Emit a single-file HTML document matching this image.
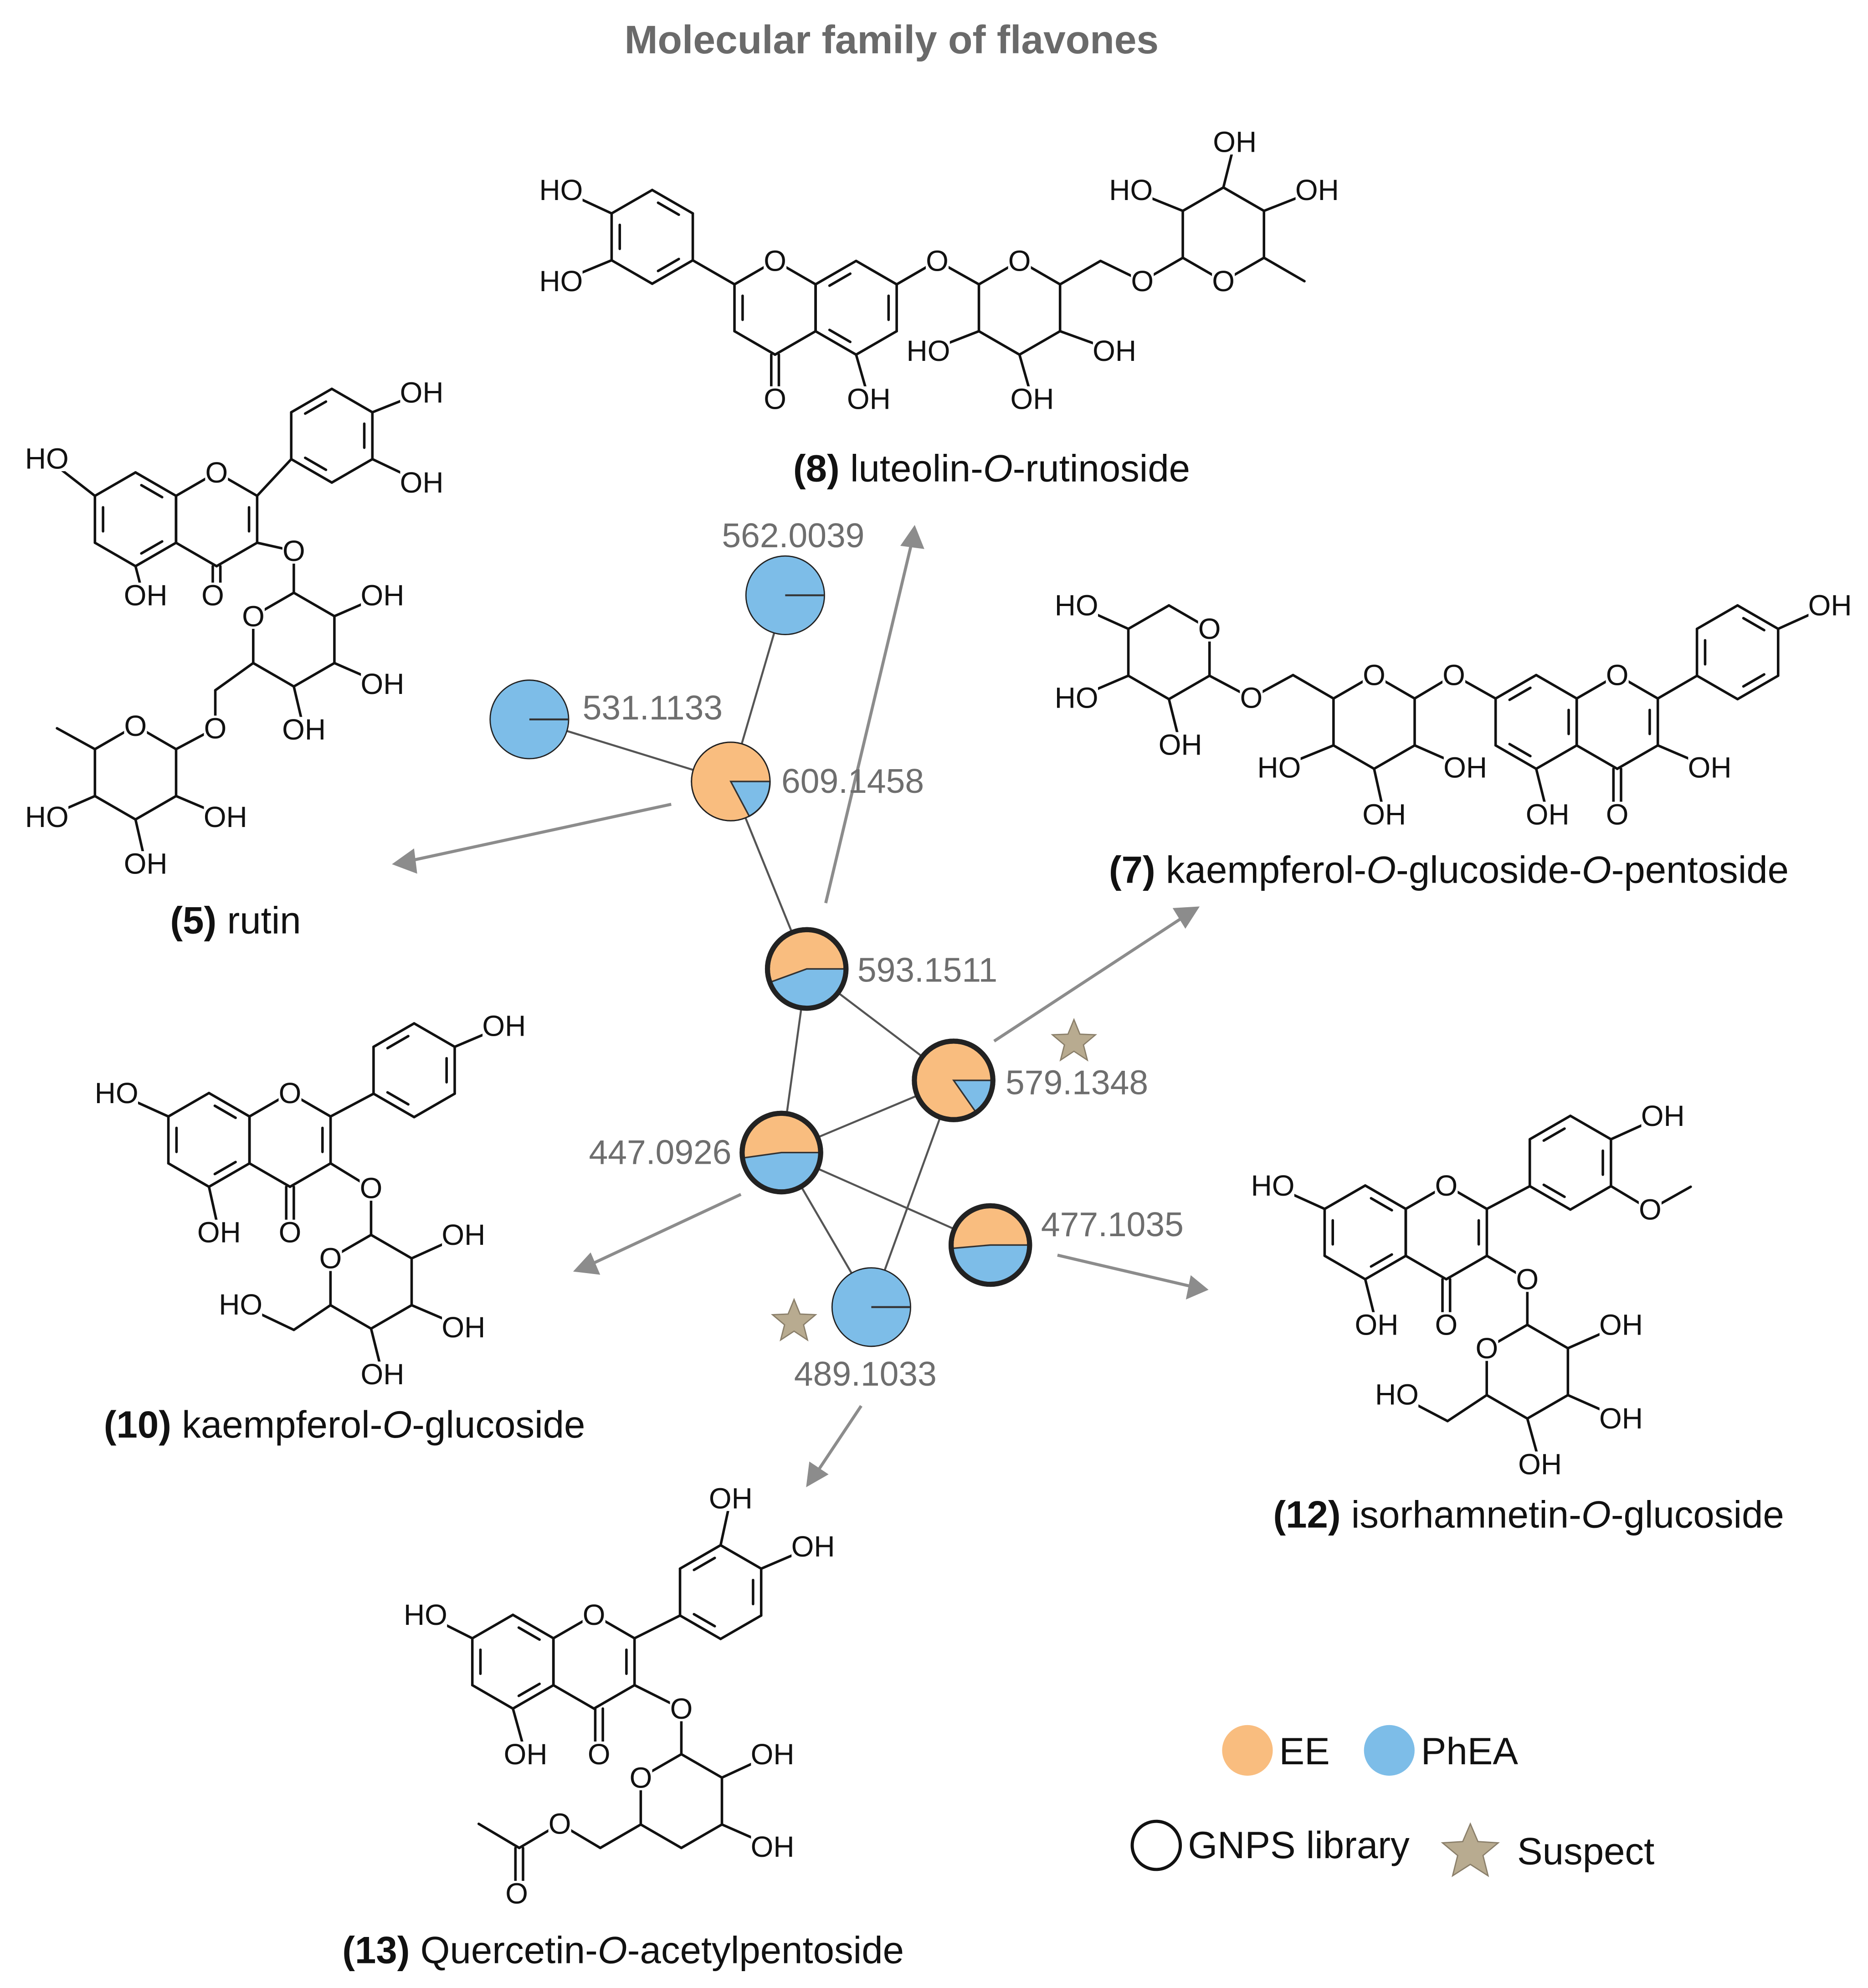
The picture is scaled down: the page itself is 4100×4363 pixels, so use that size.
<!DOCTYPE html>
<html><head><meta charset="utf-8"><style>
html,body{margin:0;padding:0;background:#fff}
svg{display:block}
.a{font-family:"Liberation Sans",Arial,sans-serif;font-size:23px;fill:#111;text-anchor:middle;dominant-baseline:central}
.n{font-family:"Liberation Sans",Arial,sans-serif;font-size:27px;fill:#6e6e6e}
.c{font-family:"Liberation Sans",Arial,sans-serif;font-size:30px;fill:#111;text-anchor:middle}
</style></head><body>
<svg id="root" xmlns="http://www.w3.org/2000/svg" width="4100" height="4363" viewBox="0 0 1475 1569.6">
<rect width="1475" height="1570" fill="#fff"/>
<g id="b" stroke="#111" stroke-width="2" fill="none" stroke-linecap="round"></g>
<g stroke="#555" stroke-width="1.6">
<line x1="620" y1="470" x2="577" y2="617"/><line x1="418" y1="568" x2="577" y2="617"/>
<line x1="577" y1="617" x2="637" y2="765"/><line x1="637" y1="765" x2="753" y2="853"/>
<line x1="637" y1="765" x2="617" y2="910"/><line x1="617" y1="910" x2="753" y2="853"/>
<line x1="617" y1="910" x2="782" y2="983"/><line x1="617" y1="910" x2="688" y2="1032"/>
<line x1="753" y1="853" x2="688" y2="1032"/>
</g>
<g stroke="#8c8c8c" stroke-width="2.4" fill="#8c8c8c">
<line x1="530" y1="635" x2="322" y2="680"/><path d="M312,682 L326,672 L328,688 Z"/>
<line x1="652" y1="713" x2="720" y2="428"/><path d="M722,417 L728,432 L713,430 Z"/>
<line x1="785" y1="822" x2="936" y2="723"/><path d="M945,717 L936,731 L928,718 Z"/>
<line x1="585" y1="943" x2="465" y2="999"/><path d="M455,1003 L466,991 L472,1005 Z"/>
<line x1="835" y1="991" x2="942" y2="1016"/><path d="M952,1018 L938,1024 L941,1009 Z"/>
<line x1="680" y1="1110" x2="644" y2="1164"/><path d="M638,1172 L640,1156 L652,1164 Z"/>
</g>
<g id="p"></g>
<g fill="#b8ab90" stroke="#8a7f6a" stroke-width="1">
<polygon points="848,805 852.7,816.5 865,817 855.5,825 858.6,837 848,830 837.4,837 840.5,825 831,817 843.3,816.5"/>
<polygon points="627,1026 631.7,1037.5 644,1038 634.5,1046 637.6,1058 627,1051 616.4,1058 619.5,1046 610,1038 622.3,1037.5"/>
<polygon points="1161,1440 1167,1454 1183,1455 1171,1465 1175,1481 1161,1472 1147,1481 1151,1465 1139,1455 1155,1454"/>
</g>
<g class="n">
<text x="570" y="432">562.0039</text><text x="460" y="568">531.1133</text>
<text x="617" y="626">609.1458</text><text x="677" y="775">593.1511</text>
<text x="794" y="864">579.1348</text><text x="465" y="919">447.0926</text>
<text x="822" y="976">477.1035</text><text x="627" y="1094">489.1033</text>
</g>
<text x="704" y="42" text-anchor="middle" font-family="Liberation Sans,Arial,sans-serif" font-size="31.5" font-weight="bold" fill="#6a6a6a">Molecular family of flavones</text>
<text class="c" x="783" y="380"><tspan font-weight="bold">(8)</tspan> luteolin-<tspan font-style="italic">O</tspan>-rutinoside</text>
<text class="c" x="186" y="737"><tspan font-weight="bold">(5)</tspan> rutin</text>
<text class="c" x="1144" y="697"><tspan font-weight="bold">(7)</tspan> kaempferol-<tspan font-style="italic">O</tspan>-glucoside-<tspan font-style="italic">O</tspan>-pentoside</text>
<text class="c" x="272" y="1135"><tspan font-weight="bold">(10)</tspan> kaempferol-<tspan font-style="italic">O</tspan>-glucoside</text>
<text class="c" x="1207" y="1206"><tspan font-weight="bold">(12)</tspan> isorhamnetin-<tspan font-style="italic">O</tspan>-glucoside</text>
<text class="c" x="492" y="1550"><tspan font-weight="bold">(13)</tspan> Quercetin-<tspan font-style="italic">O</tspan>-acetylpentoside</text>
<circle cx="985" cy="1382" r="20" fill="#f9bd7f"/><circle cx="1097" cy="1382" r="20" fill="#7dbde8"/>
<circle cx="913" cy="1457" r="19" fill="#fff" stroke="#111" stroke-width="2.5"/>
<g font-family="Liberation Sans,Arial,sans-serif" font-size="30" fill="#111">
<text x="1010" y="1393">EE</text><text x="1122" y="1393">PhEA</text>
<text x="938" y="1467">GNPS library</text><text x="1198" y="1472">Suspect</text></g>
<g id="t"></g>
</svg>
<script>
var NS="http://www.w3.org/2000/svg",B=document.getElementById('b'),P=document.getElementById('p');
function L(a,b,c,d){var l=document.createElementNS(NS,'line');l.setAttribute('x1',a);l.setAttribute('y1',b);l.setAttribute('x2',c);l.setAttribute('y2',d);B.appendChild(l);}
function V(cx,cy,i){var r=37,an=(-90+60*i)*Math.PI/180;return [cx+r*Math.cos(an),cy+r*Math.sin(an)];}
function H(cx,cy,d){d=d||[];for(var i=0;i<6;i++){var p=V(cx,cy,i),q=V(cx,cy,(i+1)%6);L(p[0],p[1],q[0],q[1]);
if(d.indexOf(i)>=0){var k=0.2,t=0.18;var p2=[p[0]+(cx-p[0])*k,p[1]+(cy-p[1])*k],q2=[q[0]+(cx-q[0])*k,q[1]+(cy-q[1])*k];
var a=[p2[0]+(q2[0]-p2[0])*t,p2[1]+(q2[1]-p2[1])*t],b=[q2[0]+(p2[0]-q2[0])*t,q2[1]+(p2[1]-q2[1])*t];L(a[0],a[1],b[0],b[1]);}}}
function Bv(cx,cy,i,x,y){var p=V(cx,cy,i);L(p[0],p[1],x,y);}
function D(a,b,c,d){L(a,b,c,d);L(a+6,b,c+6,d);}
// rutin
H(107,410,[0,2,4]);H(171,410,[1]);H(262,344,[1,3,5]);L(203,391.5,230,362.5);
Bv(107,410,5,37,362);Bv(107,410,3,113,470);D(168,447,168,468);
Bv(262,344,1,333,310);Bv(262,344,2,333,381);Bv(171,410,2,232,435);
H(232,505);L(232,435,232,468);Bv(232,505,1,302,470);Bv(232,505,2,302,540);Bv(232,505,3,240,576);
Bv(232,505,4,170,545);L(170,545,170,575);H(107,610);L(170,575,139,591.5);Bv(107,610,5,45,575);
Bv(107,610,4,37,645);Bv(107,610,3,115,682);Bv(107,610,2,178,645);
// luteolin-O-rutinoside
H(515,187,[0,2,4]);H(612,243,[4]);H(676,243,[1,3,5]);L(547,205.5,580,224.5);
Bv(515,187,5,443,150);Bv(515,187,4,443,222);D(609,280,609,315);Bv(676,243,3,686,315);
Bv(676,243,1,740,206);H(805,243);L(740,206,773,224.5);Bv(805,243,4,733,277);Bv(805,243,3,815,315);Bv(805,243,2,880,277);
Bv(805,243,1,869,206);L(869,206,902,222);H(966,185);L(902,222,934,203.5);Bv(966,185,2,1030,222);
Bv(966,185,0,975,112);Bv(966,185,5,893,150);Bv(966,185,1,1040,150);
// kaempferol-glc-pentoside
H(1213,570,[1,3,5]);H(1277,570,[1]);H(1372,515,[0,2,4]);L(1309,551.5,1340,533.5);
Bv(1372,515,1,1445,478);Bv(1277,570,2,1350,606);D(1274,607,1274,643);Bv(1213,570,3,1222,643);
Bv(1213,570,5,1148,533);H(1085,570);L(1148,533,1117,551.5);Bv(1085,570,4,1010,606);Bv(1085,570,3,1093,643);Bv(1085,570,2,1157,606);
Bv(1085,570,5,1021,533);L(1021,533,988,551);H(923,515);L(988,551,955,533.5);
Bv(923,515,5,850,478);Bv(923,515,4,850,551);Bv(923,515,3,932,588);
// kaempferol-O-glucoside
H(165,900,[0,2,4]);H(229,900,[1]);H(327,845,[1,3,5]);L(261,881.5,295,863.5);
Bv(327,845,1,398,810);Bv(165,900,5,92,863);Bv(165,900,3,173,973);D(226,937,226,973);Bv(229,900,2,293,938);
H(293,1012);L(293,938,293,975);Bv(293,1012,1,366,975);Bv(293,1012,2,366,1048);Bv(293,1012,3,302,1085);Bv(293,1012,4,232,1050);L(232,1050,190,1030);
// isorhamnetin
H(1078,973,[0,2,4]);H(1142,973,[1]);H(1240,918,[1,3,5]);L(1174,954.5,1208,936.5);
Bv(1240,918,1,1313,881);Bv(1240,918,2,1303,955);L(1303,955,1335,937);Bv(1078,973,5,1005,936);Bv(1078,973,3,1087,1046);D(1139,1010,1139,1046);
Bv(1142,973,2,1206,1010);H(1206,1083);L(1206,1010,1206,1046);Bv(1206,1083,1,1280,1046);Bv(1206,1083,2,1280,1120);Bv(1206,1083,3,1216,1156);Bv(1206,1083,4,1143,1122);L(1143,1122,1103,1101);
// quercetin acetylpentoside
H(405,1312,[0,2,4]);H(469,1312,[1]);H(569,1257,[1,3,5]);L(501,1293.5,537,1275.5);
Bv(569,1257,0,577,1183);Bv(569,1257,1,642,1221);Bv(405,1312,5,336,1275);Bv(405,1312,3,415,1385);D(470,1349,470,1385);
Bv(469,1312,2,538,1349);H(538,1422);L(538,1349,538,1385);Bv(538,1422,1,610,1385);Bv(538,1422,2,610,1458);
Bv(538,1422,4,474,1459);L(474,1459,442,1440);L(442,1440,410,1459);D(407,1459,407,1495);L(410,1459,378,1440);
var labels=[[171,373,'O'],[168,470,'O'],[37,362,'HO'],[115,470,'OH'],[333,310,'OH'],[333,381,'OH'],[232,435,'O'],[200,486.5,'O'],[302,470,'OH'],[302,540,'OH'],[240,576,'OH'],[170,575,'O'],[107,573,'O'],[37,645,'HO'],[115,682,'OH'],[178,645,'OH'],
[443,150,'HO'],[443,222,'HO'],[612,206,'O'],[612,315,'O'],[686,315,'OH'],[740,206,'O'],[805,206,'O'],[733,277,'HO'],[815,315,'OH'],[880,277,'OH'],[902,222,'O'],[966,222,'O'],[975,112,'OH'],[893,150,'HO'],[1040,150,'OH'],
[1445,478,'OH'],[1277,533,'O'],[1350,606,'OH'],[1277,643,'O'],[1222,643,'OH'],[1148,533,'O'],[1085,533,'O'],[1010,606,'HO'],[1093,643,'OH'],[1157,606,'OH'],[988,551,'O'],[955,496.5,'O'],[850,478,'HO'],[850,551,'HO'],[932,588,'OH'],
[229,863,'O'],[398,810,'OH'],[92,863,'HO'],[173,973,'OH'],[229,973,'O'],[293,938,'O'],[261,993.5,'O'],[366,975,'OH'],[366,1048,'OH'],[302,1085,'OH'],[190,1030,'HO'],
[1142,936,'O'],[1313,881,'OH'],[1303,955,'O'],[1005,936,'HO'],[1087,1046,'OH'],[1142,1046,'O'],[1206,1010,'O'],[1174,1064.5,'O'],[1280,1046,'OH'],[1280,1120,'OH'],[1216,1156,'OH'],[1103,1101,'HO'],
[469,1275,'O'],[577,1183,'OH'],[642,1221,'OH'],[336,1275,'HO'],[415,1385,'OH'],[473,1385,'O'],[538,1349,'O'],[506,1403.5,'O'],[610,1385,'OH'],[610,1458,'OH'],[442,1440,'O'],[408,1495,'O']];
function pt(cx,cy,r,a){a=a*Math.PI/180;return (cx+r*Math.cos(a)).toFixed(1)+','+(cy+r*Math.sin(a)).toFixed(1);}
function pie(cx,cy,base,wedge,ang,thick,line){var r=31;
var c=document.createElementNS(NS,'circle');c.setAttribute('cx',cx);c.setAttribute('cy',cy);c.setAttribute('r',r);c.setAttribute('fill',base);c.setAttribute('stroke','#222');c.setAttribute('stroke-width',thick?4:1);P.appendChild(c);
if(ang){var p=document.createElementNS(NS,'path');p.setAttribute('d','M'+cx+','+cy+' L'+(cx+r)+','+cy+' A'+r+','+r+' 0 '+(ang>180?1:0)+' 1 '+pt(cx,cy,r,ang)+' Z');p.setAttribute('fill',wedge);p.setAttribute('stroke','#333');p.setAttribute('stroke-width',1.2);P.appendChild(p);
var c2=c.cloneNode();c2.setAttribute('fill','none');P.appendChild(c2);}
if(line){var l=document.createElementNS(NS,'line');l.setAttribute('x1',cx);l.setAttribute('y1',cy);l.setAttribute('x2',cx+r);l.setAttribute('y2',cy);l.setAttribute('stroke','#333');l.setAttribute('stroke-width',1.5);P.appendChild(l);}}
var O='#f9bd7f',Bl='#7dbde8';
pie(620,470,Bl,null,0,false,true);pie(418,568,Bl,null,0,false,true);pie(688,1032,Bl,null,0,false,true);
pie(577,617,O,Bl,62,false);pie(637,765,O,Bl,160,true);pie(753,853,O,Bl,55,true);pie(617,910,O,Bl,172,true);pie(782,983,O,Bl,175,true);
var T=document.getElementById('t');
labels.forEach(function(l){var w=l[2].length==1?16:32;
var r=document.createElementNS(NS,'rect');r.setAttribute('x',l[0]-w/2-1);r.setAttribute('y',l[1]-10);r.setAttribute('width',w+2);r.setAttribute('height',20);r.setAttribute('fill','#fff');T.appendChild(r);
var t=document.createElementNS(NS,'text');t.setAttribute('class','a');t.setAttribute('x',l[0]);t.setAttribute('y',l[1]);t.textContent=l[2];T.appendChild(t);});
</script>
</body></html>
